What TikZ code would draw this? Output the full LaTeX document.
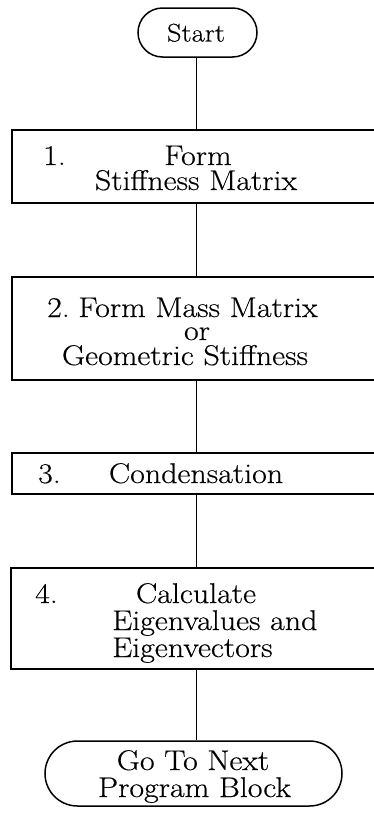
\documentclass[tikz,border=0pt]{standalone}
\usepackage{fontspec}
\setmainfont{Latin Modern Roman}[FakeStretch=1.12,FakeBold=0.4]
\usetikzlibrary{shapes.misc}
\begin{document}
\begin{tikzpicture}[x=1pt,y=-1pt,
  box/.style={draw, line width=1.7pt, rectangle, inner sep=0pt},
  term/.style={draw, line width=1.5pt, rounded rectangle, inner sep=0pt},
  txt/.style={font=\fontsize{28.5}{25}\selectfont, anchor=base, inner sep=0pt},
  num/.style={txt, anchor=base west},
  link/.style={line width=1.3pt}]
\useasboundingbox (0,0) rectangle (374,817);
\clip (0,0) rectangle (374,817);
% shapes
\node[term, minimum width=119pt, minimum height=49pt] (start) at (197.5,32.5) {};
\node[box, minimum width=388pt, minimum height=73pt] (b1) at (206,166.5) {};
\node[box, minimum width=388pt, minimum height=103pt] (b2) at (206,328.5) {};
\node[box, minimum width=388pt, minimum height=41pt] (b3) at (206,473.5) {};
\node[box, minimum width=389pt, minimum height=101pt] (b4) at (205.5,618.5) {};
\node[term, minimum width=297pt, minimum height=65pt] (end) at (193.5,773.5) {};
\coordinate (cx) at (196.5,0);
% connectors
\draw[link] (start.south -| cx) -- (b1.north -| cx);
\draw[link] (b1.south -| cx) -- (b2.north -| cx);
\draw[link] (b2.south -| cx) -- (b3.north -| cx);
\draw[link] (b3.south -| cx) -- (b4.north -| cx);
\draw[link] (b4.south -| cx) -- (end.north -| cx);
% texts
\node[txt, font=\fontsize{25.5}{25}\selectfont] (tstart) at (196,41.5) {Start};
\node[num] (n1) at (43,165) {1.};
\node[txt] (t1a) at (198,165) {Form};
\node[txt] (t1b) at (196,190) {Stiffness Matrix};
\node[num] (n2) at (47,317) {2.};
\node[txt] (t2a) at (198,317) {Form Mass Matrix};
\node[txt] (t2b) at (197,340) {or};
\node[txt] (t2c) at (185,365) {Geometric Stiffness};
\node[num] (n3) at (38,483) {3.};
\node[txt] (t3) at (196,483) {Condensation};
\node[num] (n4) at (35,603) {4.};
\node[txt] (t4a) at (196,603) {Calculate};
\node[num] (t4b) at (112,630) {Eigenvalues and};
\node[num] (t4c) at (112,657) {Eigenvectors};
\node[txt] (te1) at (193,770) {Go To Next};
\node[txt] (te2) at (194.5,797) {Program Block};
\end{tikzpicture}
\end{document}
